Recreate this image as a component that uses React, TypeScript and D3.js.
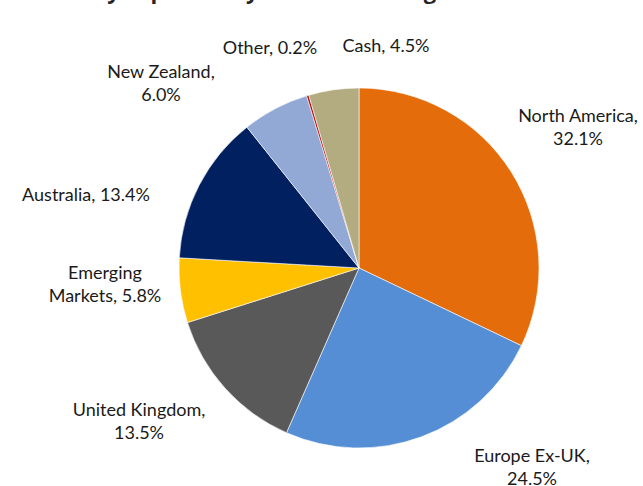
import React from "react";
import * as d3 from "d3";

const categories = [
  "North America",
  "Europe Ex-UK",
  "United Kingdom",
  "Emerging Markets",
  "Australia",
  "New Zealand",
  "Other",
  "Cash",
];
const values = [32.1, 24.5, 13.5, 5.8, 13.4, 6.0, 0.2, 4.5];
const colors = ["#E46C0A", "#558ED5", "#595959", "#FFC000", "#002060", "#92A9D6", "#C00000", "#B3AC80"];
const labelLines: string[][] = [
  ["North America,", "32.1%"],
  ["Europe Ex-UK,", "24.5%"],
  ["United Kingdom,", "13.5%"],
  ["Emerging", "Markets, 5.8%"],
  ["Australia, 13.4%"],
  ["New Zealand,", "6.0%"],
  ["Other, 0.2%"],
  ["Cash, 4.5%"],
];
const labelPos: [number, number][] = [
  [578, 122],
  [532, 462],
  [139, 416],
  [105, 279],
  [86, 201],
  [161, 78],
  [270, 54],
  [386, 52],
];
const title = "Currency Exposure by Investment Region";

export default function App() {
  const W = 643, H = 486;
  const cx = 359, cy = 268, r = 180;
  const pie = d3.pie<number>().sort(null).value((d) => d);
  const arcs = pie(values);
  const arc = d3.arc<d3.PieArcDatum<number>>().innerRadius(0).outerRadius(r);
  return (
    <svg width={W} height={H} style={{ position: "absolute", left: 0, top: 0 }}>
      <rect width={W} height={H} fill="#fff" />
      <text x={20} y={-1} fontFamily="Open Sans, sans-serif" fontWeight="bold" fontSize={22} fill="#262626">
        {title}
      </text>
      <g transform={`translate(${cx},${cy})`}>
        {arcs.map((a, i) => (
          <path key={categories[i]} d={arc(a) || ""} fill={colors[i]} stroke="#fff" strokeWidth={0.6} />
        ))}
      </g>
      {labelLines.map((lines, i) => (
        <text key={i} x={labelPos[i][0]} y={labelPos[i][1]} textAnchor="middle" fontFamily="Lato, sans-serif" fontSize={18} fill="#1a1a1a">
          {lines.map((l, j) => (
            <tspan key={j} x={labelPos[i][0]} dy={j === 0 ? 0 : 22.5}>
              {l}
            </tspan>
          ))}
        </text>
      ))}
    </svg>
  );
}
